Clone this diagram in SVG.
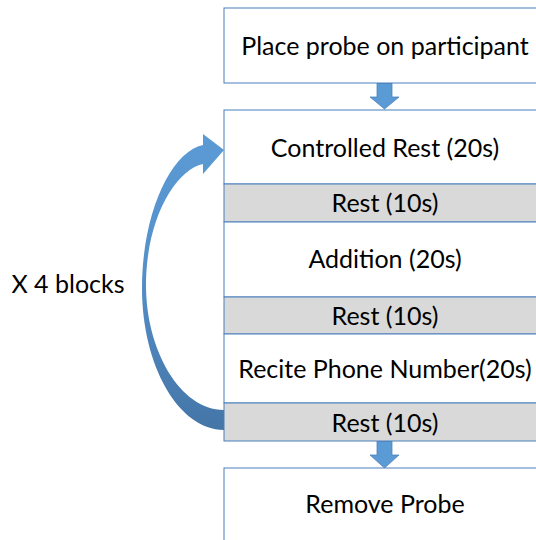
<svg xmlns="http://www.w3.org/2000/svg" width="536" height="540" viewBox="0 0 536 540">
<style>
.box{fill:#ffffff;stroke:#4a7ebb;stroke-width:1}
.rest{fill:#d9d9d9;stroke:#4a7ebb;stroke-width:1}
.t{font-family:Lato,"Liberation Sans",sans-serif;font-size:25px;fill:#000;text-anchor:middle}
.arr{fill:#5b9bd5;stroke:#4a7ebb;stroke-width:0.75}
</style>
<defs>
<linearGradient id="g" x1="0" y1="130" x2="0" y2="432" gradientUnits="userSpaceOnUse">
<stop offset="0" stop-color="#5b9bd5"/>
<stop offset="0.45" stop-color="#5590c9"/>
<stop offset="1" stop-color="#4475a7"/>
</linearGradient>
</defs>
<rect width="536" height="540" fill="#ffffff"/>
<g id="connectors">
<path class="arr" d="M377 83 H392 V97 H399 L384.5 109 L370 97 H377 Z"/>
<path class="arr" d="M377 441 H392 V455 H399 L384.5 468 L370 455 H377 Z"/>
<path id="loop" fill="url(#g)" stroke="none" d="M224 430 C179 430 142 366 142 288 C142 215 170 152 203 145 L203 134 L224 150 L203 174 L203 164 C175 170 146 220 146 285 C146 350 180 410 224 410 Z"/>
</g>
<g id="place"><rect class="box" x="224" y="8" width="322" height="75"/><text class="t" x="385" y="55">Place probe on participant</text></g>
<g id="controlled"><rect class="box" x="224" y="110" width="322" height="74"/><text class="t" x="385" y="157">Controlled Rest (20s)</text></g>
<g id="rest1"><rect class="rest" x="224" y="184" width="322" height="38"/><text class="t" x="385" y="212">Rest (10s)</text></g>
<g id="addition"><rect class="box" x="224" y="222" width="322" height="75"/><text class="t" x="385" y="268">Addition (20s)</text></g>
<g id="rest2"><rect class="rest" x="224" y="297" width="322" height="37"/><text class="t" x="385" y="325">Rest (10s)</text></g>
<g id="recite"><rect class="box" x="224" y="334" width="322" height="69"/><text class="t" x="385" y="378">Recite Phone Number(20s)</text></g>
<g id="rest3"><rect class="rest" x="224" y="403" width="322" height="38"/><text class="t" x="385" y="432">Rest (10s)</text></g>
<g id="remove"><rect class="box" x="224" y="468" width="322" height="80"/><text class="t" x="385" y="513">Remove Probe</text></g>
<g id="label"><text class="t" x="68" y="293">X 4 blocks</text></g>
</svg>
